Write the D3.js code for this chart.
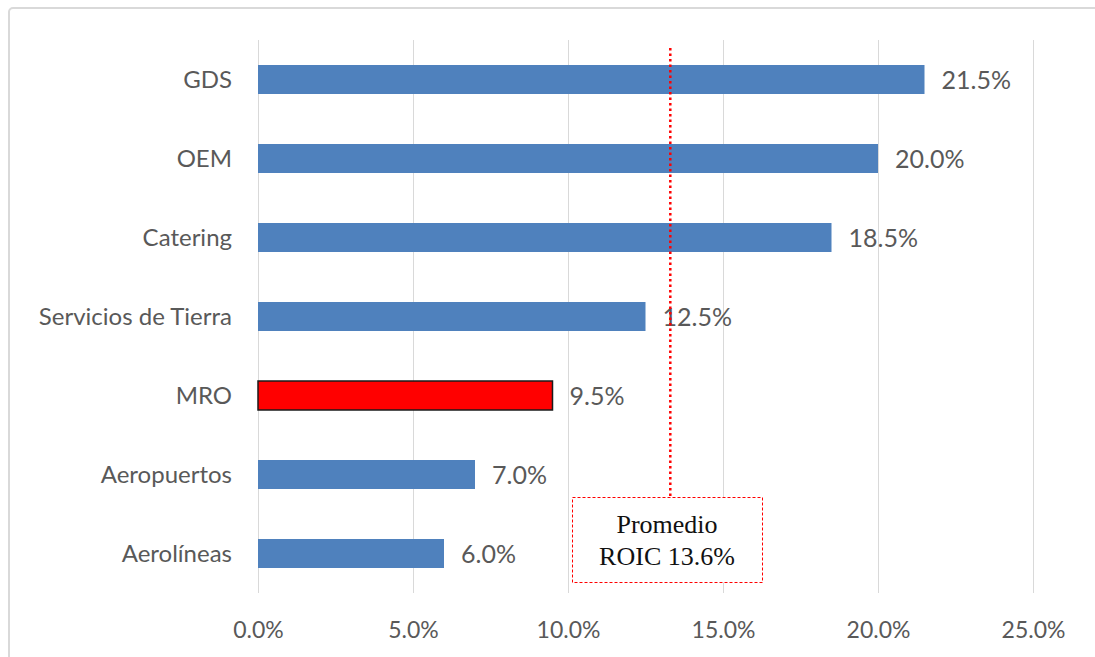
<!DOCTYPE html>
<html><head><meta charset="utf-8">
<script src="https://cdn.jsdelivr.net/npm/d3@7"></script>
<style>body{margin:0;background:#fff}svg{display:block}</style>
</head><body>
<svg id="c" width="1095" height="657"></svg>
<script>
const categories = ["GDS","OEM","Catering","Servicios de Tierra","MRO","Aeropuertos","Aerolíneas"];
const values = [21.5, 20.0, 18.5, 12.5, 9.5, 7.0, 6.0];
const highlight = ["MRO"];
const xTicks = [0, 5, 10, 15, 20, 25];
const avgLinePos = 13.3;
const avgLabel = ["Promedio", "ROIC 13.6%"];

const svg = d3.select("#c");
const font = "Lato, 'Open Sans', sans-serif";
svg.append("rect").attr("x",9).attr("y",8).attr("width",1095).attr("height",660)
  .attr("rx",4).attr("fill","#fff").attr("stroke","#d9d9d9").attr("stroke-width",2);

const x = d3.scaleLinear().domain([0,25]).range([258,1033]);
const y = d3.scaleBand().domain(categories).range([40,593]).paddingInner(0.633).paddingOuter(0.3165);

// gridlines
svg.append("g").selectAll("line").data(xTicks).join("line")
  .attr("x1",d=>x(d)+0.5).attr("x2",d=>x(d)+0.5).attr("y1",40).attr("y2",593)
  .attr("stroke","#d9d9d9").attr("stroke-width",1);

// x axis
const xAxis = d3.axisBottom(x).tickValues(xTicks).tickSize(0).tickPadding(0)
  .tickFormat(d=>d.toFixed(1)+"%");
const gx = svg.append("g").attr("transform","translate(0,593)").call(xAxis);
gx.select(".domain").remove();
gx.selectAll("text").attr("y",45).attr("dy",0).attr("fill","#595959")
  .style("font-family",font).style("font-size","23px");

// y axis labels
const yAxis = d3.axisLeft(y).tickSize(0).tickPadding(0);
const gy = svg.append("g").attr("transform","translate(232,0)").call(yAxis);
gy.select(".domain").remove();
gy.selectAll("text").attr("fill","#595959").attr("dy","0.36em")
  .style("font-family",font).style("font-size","24px");

// bars
svg.append("g").selectAll("rect").data(categories).join("rect")
  .attr("x",x(0)).attr("y",d=>y(d))
  .attr("width",(d,i)=>x(values[i])-x(0)).attr("height",y.bandwidth())
  .attr("fill",d=>highlight.includes(d)?"#ff0000":"#4f81bd")
  .attr("stroke",d=>highlight.includes(d)?"#1a1a1a":"none")
  .attr("stroke-width",1.5);

// value labels
svg.append("g").selectAll("text").data(categories).join("text")
  .attr("x",(d,i)=>x(values[i])+17).attr("y",d=>y(d)+y.bandwidth()/2)
  .attr("dy","0.36em").attr("fill","#595959")
  .style("font-family",font).style("font-size","25px")
  .text((d,i)=>values[i].toFixed(1)+"%");

// average line
svg.append("line").attr("x1",x(avgLinePos)).attr("x2",x(avgLinePos))
  .attr("y1",48).attr("y2",497).attr("stroke","#ff0000").attr("stroke-width",2.5)
  .attr("stroke-dasharray","2.5,3");

// annotation box
svg.append("rect").attr("x",572.5).attr("y",497.5).attr("width",190).attr("height",85)
  .attr("fill","#fff").attr("stroke","#ff0000").attr("stroke-width",1)
  .attr("stroke-dasharray","3,2");
svg.append("text").attr("x",667).attr("y",533).attr("text-anchor","middle")
  .style("font-family","'Liberation Serif', 'Times New Roman', serif").style("font-size","26px")
  .attr("fill","#111")
  .selectAll("tspan").data(avgLabel).join("tspan")
  .attr("x",667).attr("dy",(d,i)=>i===0?0:32).text(d=>d);
</script>
</body></html>
